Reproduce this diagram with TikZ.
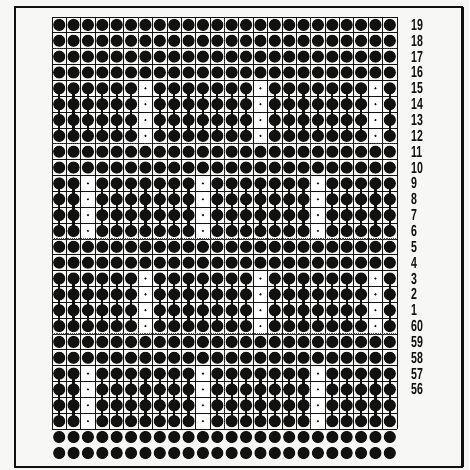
\documentclass[tikz,border=0pt]{standalone}
\usepackage{xcolor}
\usepackage{fontspec}
\usepackage{tikz}
\usetikzlibrary{positioning,calc}
\newfontfamily\rowfont[FakeStretch=0.66]{Liberation Sans}
\definecolor{ckink}{HTML}{111111}
\definecolor{ckpaper}{HTML}{F7F7F5}
\definecolor{ckcell}{HTML}{FFFFFF}

\tikzset{
  gridline/.style={ckink,line width=0.8pt},
  stem/.style={ckink,line width=2.2pt},
  repeatline/.style={ckink!80,line width=1.2pt,densely dotted},
  rowlabel/.style={anchor=west,inner sep=0pt,text=ckink,font=\rowfont\bfseries\fontsize{16pt}{16pt}\selectfont}
}

\begin{document}
\begin{tikzpicture}[x=1pt,y=-1pt]
  \def\gx{52}
  \def\gy{17}
  \def\cw{14.375}
  \def\rh{15.85}
  \def\rd{6.0}
  \useasboundingbox (0,0) rectangle (469,470);
  \fill[ckpaper] (0,0) rectangle (469,470);
  % vertical stems inside the four-row blocks
  \foreach \rs/\wc in {4/6,10/2,16/6,22/2}
    \foreach \c in {0,...,23}{
      \pgfmathtruncatemacro\m{mod(\c,8)}
      \ifnum\m=\wc\else
        \draw[stem] ({\gx+(\c+0.5)*\cw},{\gy+(\rs+0.5)*\rh}) -- ({\gx+(\c+0.5)*\cw},{\gy+(\rs+3.5)*\rh});
      \fi
    }
  % stitches
  \foreach \r in {0,...,25}
    \foreach \c in {0,...,23}
      \fill[ckink] ({\gx+(\c+0.5)*\cw},{\gy+(\r+0.5)*\rh}) circle (\rd);
  % open cells
  \foreach \rs/\wc in {4/6,10/2,16/6,22/2}
    \foreach \k in {0,1,2}
      \foreach \r in {0,...,3}{
        \fill[ckcell] ({\gx+(\wc+8*\k)*\cw},{\gy+(\rs+\r)*\rh}) rectangle ++(\cw,\rh);
        \fill[ckink] ({\gx+(\wc+8*\k+0.5)*\cw},{\gy+(\rs+\r+0.5)*\rh}) circle (1.2);
      }
  % grid
  \foreach \i in {0,...,24}
    \draw[gridline] ({\gx+\i*\cw},\gy) -- ({\gx+\i*\cw},{\gy+26*\rh});
  \foreach \j in {0,...,26}
    \draw[gridline] (\gx,{\gy+\j*\rh}) -- ({\gx+24*\cw},{\gy+\j*\rh});
  \foreach \j in {2,8,14,20}
    \draw[repeatline] (\gx,{\gy+\j*\rh}) -- ({\gx+24*\cw},{\gy+\j*\rh});
  \foreach \i in {6,12,18}
    \draw[repeatline] ({\gx+\i*\cw},\gy) -- ({\gx+\i*\cw},{\gy+26*\rh});
  % cast-on rows
  \foreach \y in {437,453}
    \foreach \c in {0,...,23}
      \fill[ckink] ({\gx+(\c+0.5)*\cw},\y) circle (\rd);
  % row numbers
  \foreach \lab [count=\r from 0] in {19,18,17,16,15,14,13,12,11,10,9,8,7,6,5,4,3,2,1,60,59,58,57,56}
    \node[rowlabel] (row\r) at (411,{\gy+(\r+0.5)*\rh}) {\lab};
  \draw[ckink,line width=2pt] (15,7) rectangle (462,467);
  \draw[ckink,line width=3pt] (462,7) -- (462,467);
\end{tikzpicture}
\end{document}
